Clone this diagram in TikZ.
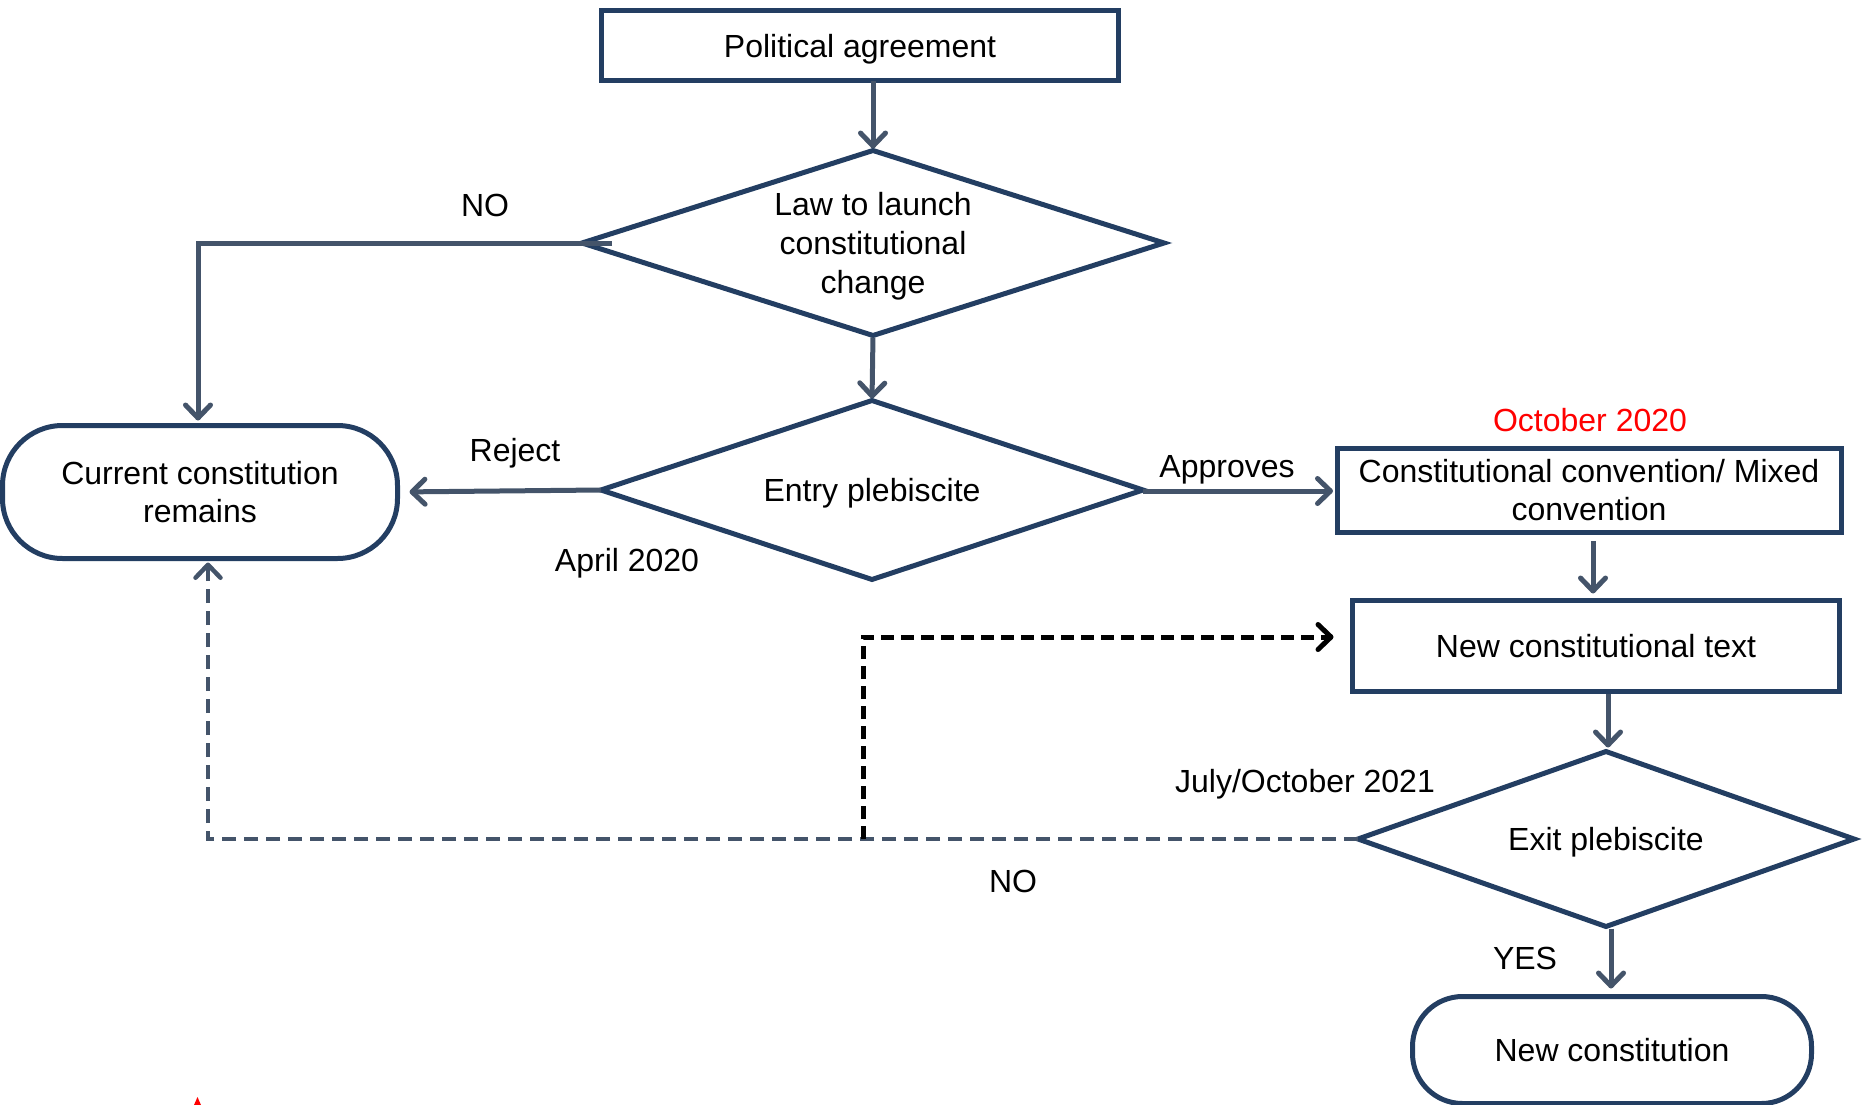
\documentclass[tikz,border=0pt]{standalone}
\usepackage{fontspec}
\setmainfont{Liberation Sans}
\usetikzlibrary{shapes.geometric,arrows.meta,calc}
\definecolor{boxc}{RGB}{35,62,98}
\definecolor{arrc}{RGB}{68,84,106}
\tikzset{
  base/.style={draw=boxc,line width=5pt,align=center,font=\fontsize{32}{38.6}\selectfont,inner sep=0pt,outer sep=0pt,text depth=0pt},
  boxn/.style={base,rectangle},
  dia/.style={base,diamond},
  term/.style={base,rectangle,rounded corners=60pt},
  lab/.style={font=\fontsize{32}{38}\selectfont,inner sep=0pt},
  arr/.style={draw=arrc,line width=5pt,-{Straight Barb[length=13pt,width=25pt,round]}},
  darr/.style={arr,line width=4.5pt,dash pattern=on 14pt off 8pt},
  barr/.style={draw=black,line width=5pt,dash pattern=on 13pt off 7pt,-{Straight Barb[length=13pt,width=25pt,round]}}
}
\begin{document}
\begin{tikzpicture}[x=1pt,y=-1pt]
\useasboundingbox (0,0) rectangle (1863,1105);
% nodes
\node[boxn,minimum width=517pt,minimum height=70pt] (pa) at (860,46) {Political agreement};
\node[dia,aspect=3.15,minimum width=582pt,minimum height=185pt] (d1) at (873,243) {Law to launch\\constitutional\\change};
\node[dia,aspect=3,minimum width=542pt,minimum height=179pt] (d2) at (872,490) {Entry plebiscite};
\node[term,minimum width=395pt,minimum height=133pt] (cc) at (200,492) {Current constitution\\remains};
\node[boxn,minimum width=504pt,minimum height=84pt] (cv) at (1589,490) {Constitutional convention/ Mixed\\convention};
\node[boxn,minimum width=487pt,minimum height=91pt] (nt) at (1596,646) {New constitutional text};
\node[dia,aspect=2.8,minimum width=496pt,minimum height=175pt] (d3) at (1606,839) {Exit plebiscite};
\node[term,rounded corners=50pt,minimum width=399pt,minimum height=107pt] (nc) at (1612,1050) {New constitution};
% labels
\node[lab] (lno1) at (485,205) {NO};
\node[lab] (lrej) at (515,453) {Reject};
\node[lab] (lapr) at (627,563) {April 2020};
\node[lab] (lapp) at (1227,470) {Approves};
\node[lab,text=red] (loct) at (1590,420) {October 2020};
\node[lab] (ljul) at (1305,784) {July/October 2021};
\node[lab] (lno2) at (1013,881) {NO};
\node[lab] (lyes) at (1525,958) {YES};
% connectors
\draw[arr,shorten >=2pt] (pa.south -| d1.north) -- (d1.north);
\draw[arr,shorten >=5pt] ($(d1.west)+(30,0)$) -| ([xshift=-2pt]cc.north);
\draw[arr,shorten <=2pt,shorten >=2pt] (d1.south) -- (d2.north);
\draw[arr,shorten >=12pt] (d2.west) -- (cc.east);
\draw[arr,shorten >=4pt] ([yshift=-1pt]d2.east) -- ([yshift=-1pt]cv.west);
\draw[arr,shorten <=9pt,shorten >=7pt] ([xshift=4pt]cv.south) -- ([xshift=4pt]cv.south |- nt.north);
\draw[arr,shorten <=2pt,shorten >=4pt] ([xshift=2pt]d3.north |- nt.south) -- ([xshift=2pt]d3.north);
\draw[arr,shorten <=2pt,shorten >=8pt] ([xshift=5pt]d3.south) -- ([xshift=5pt]d3.south |- nc.north);
\draw[darr,shorten >=4pt] (d3.west) -| ([xshift=8pt]cc.south);
\coordinate (j) at (863,839);
\draw[barr,shorten >=19pt] (j) |- ([yshift=9pt]nt.west);
% small red mark at the bottom edge
\fill[red] (194,1105) -- (197.5,1097) -- (201,1105) -- cycle;
\end{tikzpicture}
\end{document}
